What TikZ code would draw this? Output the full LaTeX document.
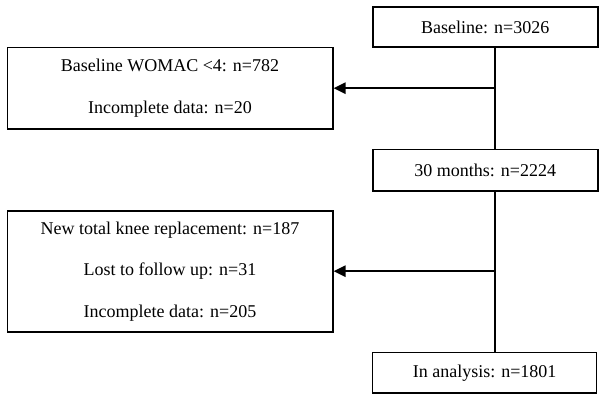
\documentclass[tikz,border=0pt]{standalone}
\usepackage{fontspec}
\setmainfont{Liberation Serif}
\usetikzlibrary{arrows.meta}
\tikzset{
  flowbox/.style={draw,line width=1.6pt,align=center,inner sep=0pt,
    font=\fontsize{18}{41.5}\selectfont},
  flowarr/.style={line width=2.4pt,-{Triangle[length=12pt,width=11pt]}},
}
\begin{document}
\begin{tikzpicture}[x=1pt,y=-1pt]
	\useasboundingbox (0,0) rectangle (604,401);
	\node[flowbox,minimum width=225pt,minimum height=40pt] (base) at (485.2,27.3) {Baseline: n=3026};
	\node[flowbox,minimum width=325.4pt,minimum height=81.7pt] (womac) at (170,88.2) {Baseline WOMAC <4: n=782\\Incomplete data: n=20};
	\node[flowbox,minimum width=225pt,minimum height=41.4pt] (month) at (485.2,170) {30 months: n=2224};
	\node[flowbox,minimum width=325.4pt,minimum height=121pt] (lost) at (170,271.2) {New total knee replacement: n=187\\Lost to follow up: n=31\\Incomplete data: n=205};
	\node[flowbox,minimum width=224pt,minimum height=40.3pt] (final) at (484.6,372.8) {In analysis: n=1801};
	\coordinate (spine) at (495,0); % main line
	\draw[line width=2pt] (base.south -| spine) -- (month.north -| spine) (month.south -| spine) -- (final.north -| spine);
	\draw[flowarr] (womac.east -| spine) -- (womac.east); % excluded
	\draw[flowarr] (lost.east -| spine) -- (lost.east);
\end{tikzpicture}
\end{document}
